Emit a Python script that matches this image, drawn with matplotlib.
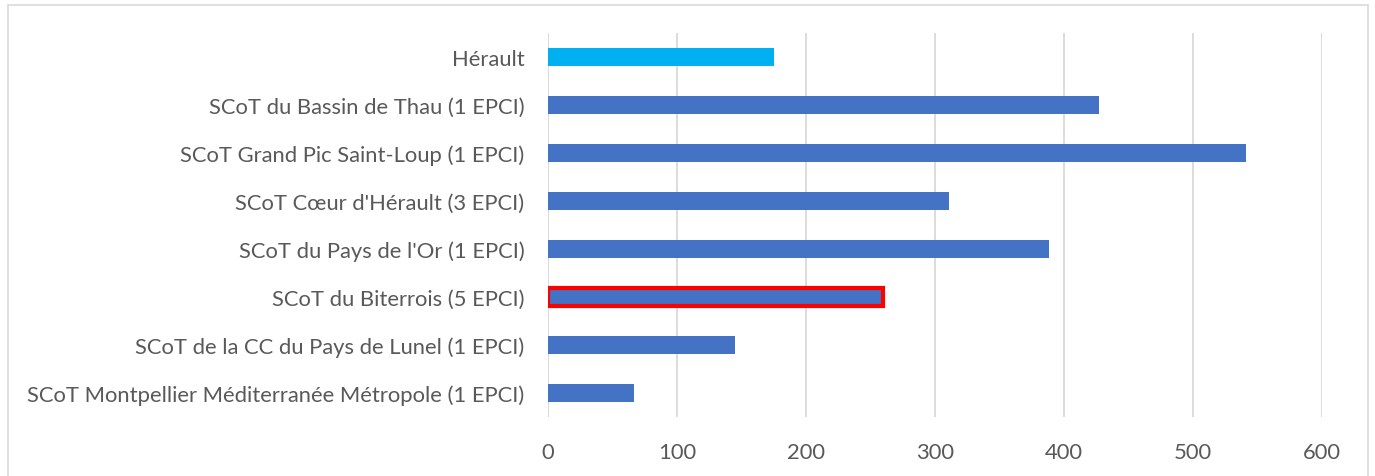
import matplotlib
matplotlib.use("Agg")
import matplotlib.pyplot as plt
from matplotlib.patches import Rectangle

categories = [
    "SCoT Montpellier Méditerranée Métropole (1 EPCI)",
    "SCoT de la CC du Pays de Lunel (1 EPCI)",
    "SCoT du Biterrois (5 EPCI)",
    "SCoT du Pays de l'Or (1 EPCI)",
    "SCoT Cœur d'Hérault (3 EPCI)",
    "SCoT Grand Pic Saint-Loup (1 EPCI)",
    "SCoT du Bassin de Thau (1 EPCI)",
    "Hérault",
]
values = [67, 145, 260, 388, 311, 541, 427, 175]
highlight = "SCoT du Biterrois (5 EPCI)"
xticks = [0, 100, 200, 300, 400, 500, 600]

plt.rcParams['font.family'] = ['Lato', 'DejaVu Sans']
fig = plt.figure(figsize=(13.75, 4.77), dpi=100)
ax = fig.add_axes([548/1375, 1-418/477, (1322-548)/1375, (418-34)/477])

colors = ["#00B0F0" if c == "Hérault" else "#4472C4" for c in categories]
ypos = list(range(len(categories)))
bars = ax.barh(ypos, values, height=0.36, color=colors, zorder=3)
for b, c in zip(bars, categories):
    if c == highlight:
        b.set_edgecolor("#FF0000")
        b.set_linewidth(3.0)

ax.set_xlim(0, 600)
ax.set_ylim(-0.5, len(categories) - 0.5)
ax.set_xticks(xticks)
ax.set_xticklabels([str(x) for x in xticks])
ax.set_yticks(ypos)
ax.set_yticklabels(categories)
ax.grid(axis='x', color="#D9D9D9", linewidth=1.3, zorder=0)
for s in ax.spines.values():
    s.set_visible(False)
ax.tick_params(axis='both', length=0, colors="#595959", labelsize=15.8)
ax.tick_params(axis='y', pad=17)
ax.tick_params(axis='x', pad=18)

fig.patches.append(Rectangle((8/1375, -0.05), (1368-8)/1375, 1-6/477+0.05,
                             transform=fig.transFigure, fill=False,
                             edgecolor="#D9D9D9", linewidth=1.2))
fig.savefig("out.png", dpi=100)
